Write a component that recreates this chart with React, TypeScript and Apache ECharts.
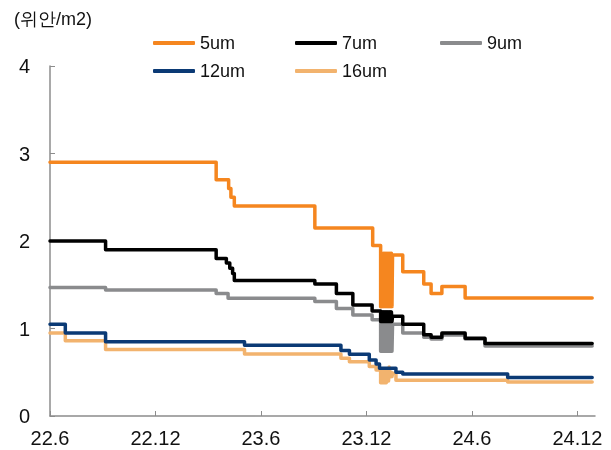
import React, { useEffect, useRef } from "react";
import * as echarts from "echarts";

const unitLabel = "(위안/m2)";
const yTicks = [0, 1, 2, 3, 4];
const xTickLabels = ["22.6", "22.12", "23.6", "23.12", "24.6", "24.12"];
const seriesNames = ["5um", "7um", "9um", "12um", "16um"];
const seriesColors = ["#F5861F", "#000000", "#8A8B8D", "#0B3A75", "#F2B36E"];

const s5um: [string, number][] = [
  ["2022-06-01", 2.9], ["2023-03-15", 2.7], ["2023-04-06", 2.6], ["2023-04-10", 2.5],
  ["2023-04-16", 2.4], ["2023-09-03", 2.15], ["2023-12-12", 1.95],
  ["2023-12-26", 1.25], ["2023-12-27", 1.86], ["2023-12-28", 1.25], ["2023-12-29", 1.86],
  ["2023-12-30", 1.25], ["2023-12-31", 1.86], ["2024-01-01", 1.25], ["2024-01-02", 1.86],
  ["2024-01-03", 1.25], ["2024-01-04", 1.86], ["2024-01-05", 1.25], ["2024-01-06", 1.86],
  ["2024-01-07", 1.25], ["2024-01-08", 1.86], ["2024-01-09", 1.25], ["2024-01-10", 1.86],
  ["2024-01-11", 1.25], ["2024-01-12", 1.86], ["2024-01-13", 1.25], ["2024-01-14", 1.86],
  ["2024-01-15", 1.25], ["2024-01-16", 1.84], ["2024-02-03", 1.65], ["2024-03-09", 1.51],
  ["2024-03-22", 1.4], ["2024-04-10", 1.48], ["2024-05-20", 1.35], ["2024-12-27", 1.35],
];

const s7um: [string, number][] = [
  ["2022-06-01", 2.0], ["2022-09-06", 1.9], ["2023-03-15", 1.8], ["2023-04-02", 1.75],
  ["2023-04-08", 1.69], ["2023-04-13", 1.63], ["2023-04-16", 1.55], ["2023-09-03", 1.51],
  ["2023-10-10", 1.4], ["2023-11-08", 1.27], ["2023-12-11", 1.2],
  ["2023-12-26", 1.08], ["2023-12-27", 1.19], ["2023-12-28", 1.08], ["2023-12-29", 1.19],
  ["2023-12-30", 1.08], ["2023-12-31", 1.19], ["2024-01-01", 1.08], ["2024-01-02", 1.19],
  ["2024-01-03", 1.08], ["2024-01-04", 1.19], ["2024-01-05", 1.08], ["2024-01-06", 1.19],
  ["2024-01-07", 1.08], ["2024-01-08", 1.19], ["2024-01-09", 1.08], ["2024-01-10", 1.19],
  ["2024-01-11", 1.08], ["2024-01-12", 1.19], ["2024-01-13", 1.08], ["2024-01-14", 1.19],
  ["2024-01-15", 1.08], ["2024-01-16", 1.14], ["2024-02-03", 1.05], ["2024-03-09", 0.93],
  ["2024-03-22", 0.9], ["2024-04-10", 0.95], ["2024-05-20", 0.89], ["2024-06-24", 0.83],
  ["2024-12-27", 0.83],
];

const s9um: [string, number][] = [
  ["2022-06-01", 1.47], ["2022-09-06", 1.44], ["2023-03-15", 1.4], ["2023-04-05", 1.345],
  ["2023-09-03", 1.31], ["2023-10-10", 1.23], ["2023-11-08", 1.155], ["2023-12-11", 1.1],
  ["2023-12-26", 0.74], ["2023-12-27", 1.1], ["2023-12-28", 0.74], ["2023-12-29", 1.1],
  ["2023-12-30", 0.74], ["2023-12-31", 1.1], ["2024-01-01", 0.74], ["2024-01-02", 1.1],
  ["2024-01-03", 0.74], ["2024-01-04", 1.1], ["2024-01-05", 0.74], ["2024-01-06", 1.1],
  ["2024-01-07", 0.74], ["2024-01-08", 1.1], ["2024-01-09", 0.74], ["2024-01-10", 1.1],
  ["2024-01-11", 0.74], ["2024-01-12", 1.1], ["2024-01-13", 0.74], ["2024-01-14", 1.1],
  ["2024-01-15", 0.74], ["2024-01-16", 1.05], ["2024-02-03", 0.95], ["2024-03-09", 0.9],
  ["2024-03-22", 0.88], ["2024-04-10", 0.925], ["2024-05-20", 0.88], ["2024-06-24", 0.8],
  ["2024-12-27", 0.8],
];

const s12um: [string, number][] = [
  ["2022-06-01", 1.05], ["2022-06-28", 0.95], ["2022-09-06", 0.85], ["2023-05-03", 0.81],
  ["2023-10-18", 0.75], ["2023-11-02", 0.705], ["2023-12-06", 0.64], ["2023-12-18", 0.595],
  ["2023-12-24", 0.545], ["2024-01-22", 0.5], ["2024-02-03", 0.48], ["2024-08-02", 0.44],
  ["2024-12-27", 0.44],
];

const s16um: [string, number][] = [
  ["2022-06-01", 0.95], ["2022-06-28", 0.86], ["2022-09-06", 0.76], ["2023-05-03", 0.71],
  ["2023-10-18", 0.66], ["2023-11-02", 0.62], ["2023-12-06", 0.565], ["2023-12-18", 0.525],
  ["2023-12-26", 0.38], ["2023-12-27", 0.52], ["2023-12-28", 0.38], ["2023-12-29", 0.52],
  ["2023-12-30", 0.38], ["2023-12-31", 0.52], ["2024-01-01", 0.38], ["2024-01-02", 0.52],
  ["2024-01-03", 0.38], ["2024-01-04", 0.52], ["2024-01-05", 0.38], ["2024-01-06", 0.52],
  ["2024-01-07", 0.4], ["2024-01-08", 0.5], ["2024-01-09", 0.4], ["2024-01-10", 0.56],
  ["2024-01-11", 0.45], ["2024-01-12", 0.5], ["2024-01-13", 0.45], ["2024-01-14", 0.5],
  ["2024-01-15", 0.45], ["2024-01-16", 0.49], ["2024-01-22", 0.41], ["2024-08-02", 0.39],
  ["2024-12-27", 0.39],
];

const allSeries = [s5um, s7um, s9um, s12um, s16um];

// months since 2022-06-01
function toOffset(d: string): number {
  const [y, m, day] = d.split("-").map(Number);
  return (y - 2022) * 12 + (m - 6) + (day - 1) / 31;
}

const FONT = "'Liberation Sans', Arial, sans-serif";

export default function App() {
  const ref = useRef<HTMLDivElement>(null);
  useEffect(() => {
    document.body.style.margin = "0";
    const chart = echarts.init(ref.current!, null, { renderer: "svg" });
    const legendPos = [
      { left: 148, top: 29 },
      { left: 290, top: 29 },
      { left: 435, top: 29 },
      { left: 148, top: 57 },
      { left: 290, top: 57 },
    ];
    chart.setOption({
      animation: false,
      textStyle: { fontFamily: FONT },
      grid: { left: 50, right: 16, top: 66, bottom: 34 },
      legend: seriesNames.map((n, i) => ({
        data: [n],
        left: legendPos[i].left,
        top: legendPos[i].top,
        icon: "roundRect",
        itemWidth: 42,
        itemHeight: 4,
        itemGap: 0,
        textStyle: { fontSize: 18, color: "#111", fontFamily: FONT, padding: [0, 0, 0, 0] },
      })),
      graphic: [
        {
          type: "text",
          left: 14,
          top: 10,
          style: { text: unitLabel, fontSize: 18, fill: "#111", fontFamily: FONT },
        },
      ],
      xAxis: {
        type: "value",
        min: 0,
        max: 31,
        interval: 6,
        axisLine: { show: true, lineStyle: { color: "#8C8C8C", width: 1.5 } },
        axisTick: { show: true, inside: true, length: 5, lineStyle: { color: "#8C8C8C" } },
        splitLine: { show: false },
        axisLabel: {
          fontSize: 20,
          color: "#111",
          margin: 12,
          fontFamily: FONT,
          formatter: (v: number) => {
            const idx = Math.round(v / 6);
            return xTickLabels[idx] ?? "";
          },
        },
      },
      yAxis: {
        type: "value",
        min: yTicks[0],
        max: yTicks[yTicks.length - 1],
        interval: 1,
        axisLine: { show: true, lineStyle: { color: "#8C8C8C", width: 1.5 } },
        axisTick: { show: true, inside: true, length: 5, lineStyle: { color: "#8C8C8C" } },
        splitLine: { show: false },
        axisLabel: { fontSize: 20, color: "#111", margin: 20, fontFamily: FONT },
      },
      series: allSeries.map((s, i) => ({
        name: seriesNames[i],
        type: "line",
        step: "end",
        showSymbol: false,
        symbol: "none",
        color: seriesColors[i],
        lineStyle: { width: 3.5, color: seriesColors[i], cap: "round", join: "round" },
        data: s.map(([d, v]) => [toOffset(d), v]),
        z: 10 - i,
      })),
    });
    return () => chart.dispose();
  }, []);
  return (
    <div
      ref={ref}
      style={{ position: "fixed", left: 0, top: 0, width: 611, height: 450 }}
    />
  );
}
